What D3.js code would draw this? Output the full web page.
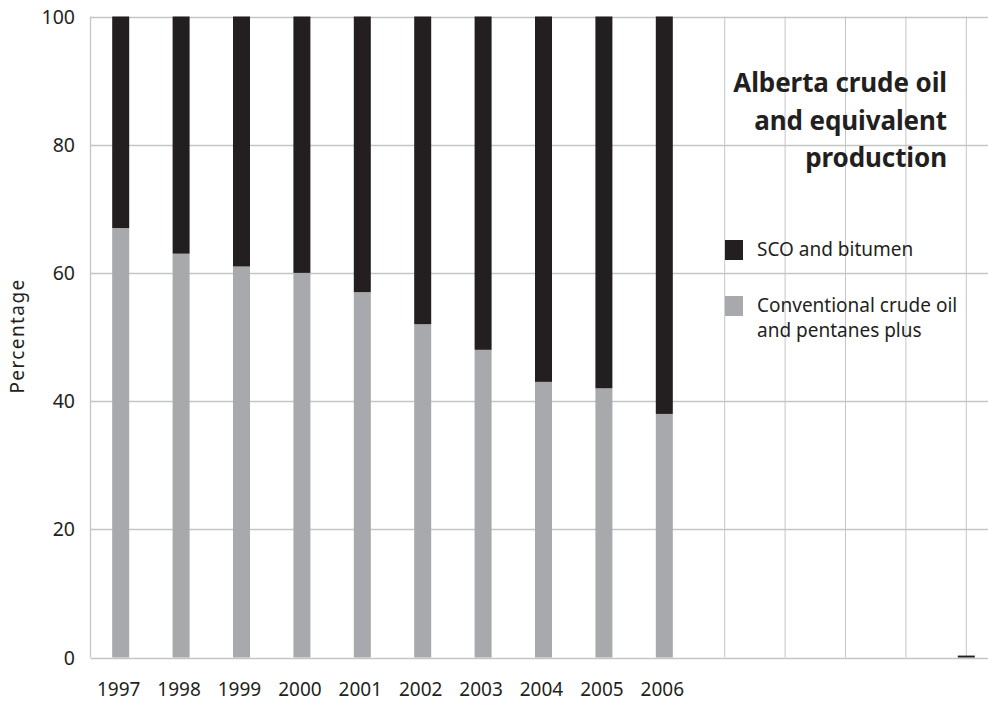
<!DOCTYPE html>
<html>
<head>
    <meta charset="utf-8">
    <title>Alberta crude oil and equivalent production</title>
    <style>
        body { margin: 0; background: #fff; }
        svg text { font-family: "Noto Sans", "Open Sans", sans-serif; fill: #231f20; }
    </style>
</head>
<body>
    <svg width="988" height="702"></svg>
    <script src="https://cdn.jsdelivr.net/npm/d3@7"></script>
    <script>

    var years = ["1997", "1998", "1999", "2000", "2001", "2002", "2003", "2004", "2005", "2006",
                 "2007", "2008", "2009", "2010", "2011"],
        yearLabels = ["1997", "1998", "1999", "2000", "2001", "2002", "2003", "2004", "2005", "2006",
                      "", "", "", "", ""],
        conventional = [67, 63, 61, 60, 57, 52, 48, 43, 42, 38, 0, 0, 0, 0, 0],
        scoBitumen = [33, 37, 39, 40, 43, 48, 52, 57, 58, 62, 0, 0, 0, 0, 0.3],
        yTicks = [0, 20, 40, 60, 80, 100],
        seriesNames = ["SCO and bitumen", "Conventional crude oil|and pentanes plus"],
        titleLines = ["Alberta crude oil", "and equivalent", "production"];

    var svg = d3.select("svg"),
        width = +svg.attr("width"),
        height = +svg.attr("height");

    var plotLeft = 90.5, plotTop = 16.5, plotBottom = 657.5, step = 60.4;

    var x = d3.scaleBand()
        .domain(years)
        .range([plotLeft, plotLeft + step * years.length])
        .paddingInner(0).paddingOuter(0);

    var y = d3.scaleLinear().domain([0, 100]).range([plotBottom, plotTop]);

    var dark = "#231f20", grey = "#a7a9ac", gridCol = "#c4c5c7";
    var barW = 17;

    // grid
    var grid = svg.append("g");
    grid.selectAll(".h").data(yTicks).enter().append("line")
        .attr("x1", plotLeft).attr("x2", width)
        .attr("y1", function(d) { return Math.round(y(d)) + 0.5; })
        .attr("y2", function(d) { return Math.round(y(d)) + 0.5; })
        .attr("stroke", gridCol).attr("stroke-width", 1.3);
    grid.selectAll(".v").data(years).enter().append("line")
        .attr("x1", function(d) { return x(d) + x.bandwidth() / 2; })
        .attr("x2", function(d) { return x(d) + x.bandwidth() / 2; })
        .attr("y1", y(100)).attr("y2", y(0))
        .attr("stroke", gridCol).attr("stroke-width", 1);
    grid.append("line")
        .attr("x1", plotLeft).attr("x2", plotLeft)
        .attr("y1", y(100)).attr("y2", y(0))
        .attr("stroke", gridCol).attr("stroke-width", 1.3);

    // stacked bars
    var rows = years.map(function(yr, i) {
        return { year: yr, conv: conventional[i], sco: scoBitumen[i] };
    });
    var stack = d3.stack().keys(["conv", "sco"])(rows);
    var colors = { conv: grey, sco: dark };

    svg.append("g").selectAll("g").data(stack).enter().append("g")
        .attr("fill", function(s) { return colors[s.key]; })
        .selectAll("rect").data(function(s) { return s; }).enter().append("rect")
        .attr("x", function(d) { return x(d.data.year) + x.bandwidth() / 2 - barW / 2; })
        .attr("width", barW)
        .attr("y", function(d) { return y(d[1]); })
        .attr("height", function(d) { return Math.max(0, y(d[0]) - y(d[1])); });

    // y axis labels
    svg.append("g").selectAll("text").data(yTicks).enter().append("text")
        .attr("x", 75).attr("y", function(d) { return y(d) + 7; })
        .attr("text-anchor", "end")
        .attr("font-size", 19.5)
        .text(function(d) { return d; });

    // x axis labels
    svg.append("g").selectAll("text").data(years).enter().append("text")
        .attr("x", function(d) { return x(d) + x.bandwidth() / 2 - 2; })
        .attr("y", 696)
        .attr("text-anchor", "middle")
        .attr("font-size", 19)
        .text(function(d, i) { return yearLabels[i]; });

    svg.append("text")
        .attr("transform", "translate(24,336) rotate(-90)")
        .attr("text-anchor", "middle")
        .attr("font-size", 19)
        .attr("letter-spacing", 1.4)
        .text("Percentage");

    // title
    svg.append("g").selectAll("text").data(titleLines).enter().append("text")
        .attr("x", 947)
        .attr("y", function(d, i) { return 92 + i * 37.5; })
        .attr("text-anchor", "end")
        .attr("font-size", 26)
        .attr("font-weight", "bold")
        .attr("letter-spacing", -0.1)
        .text(function(d) { return d; });

    // legend
    var legend = svg.append("g");
    [dark, grey].forEach(function(c, i) {
        var ly = 240 + i * 56;
        legend.append("rect")
            .attr("x", 725).attr("y", ly).attr("width", 18).attr("height", 20)
            .attr("fill", c);
        seriesNames[i].split("|").forEach(function(line, j) {
            legend.append("text")
                .attr("x", 757).attr("y", ly + 16 + j * 25)
                .attr("font-size", 19)
                .text(line);
        });
    });

    </script>
</body>
</html>
